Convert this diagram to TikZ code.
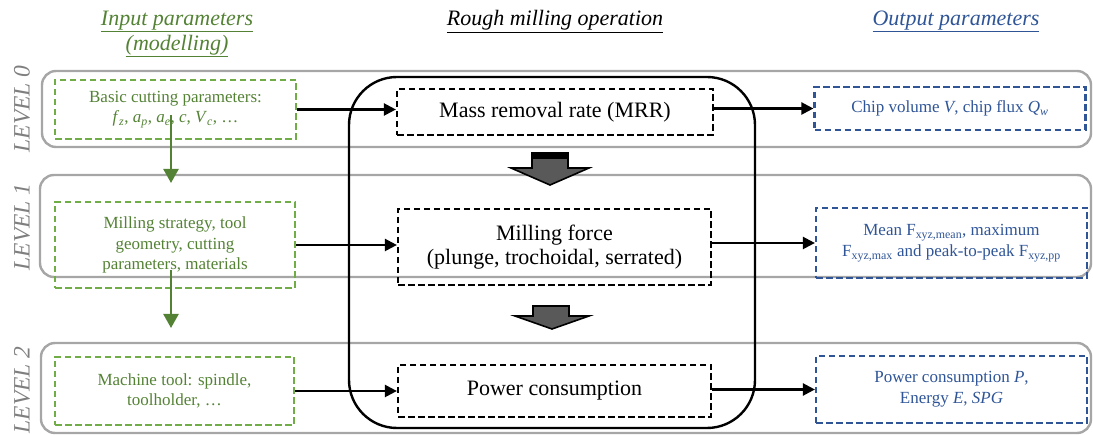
\documentclass[tikz,border=0pt]{standalone}
\usepackage{fontspec}
\setmainfont{Liberation Serif}
\usetikzlibrary{arrows.meta}
\definecolor{grtext}{HTML}{548235}
\definecolor{grbox}{HTML}{70AD47}
\definecolor{bltext}{HTML}{2F5597}
\definecolor{blbox}{HTML}{2F5597}
\definecolor{band}{HTML}{A6A6A6}
\definecolor{lvl}{HTML}{7F7F7F}
\definecolor{barrow}{HTML}{595959}
\tikzset{
  bandbox/.style={draw=band, line width=2.4pt, rounded corners=14pt},
  inbox/.style={draw=grbox, line width=2.2pt, dash pattern=on 6.5pt off 3.5pt, text=grtext, align=center, font=\fontsize{17}{20.5}\selectfont, inner sep=0pt},
  midbox/.style={draw=black, line width=2.2pt, dash pattern=on 6.5pt off 3.5pt, align=center, font=\fontsize{22}{23.5}\selectfont, inner sep=0pt},
  outbox/.style={draw=blbox, line width=2.2pt, dash pattern=on 6.5pt off 3.5pt, text=bltext, align=center, font=\fontsize{17}{21}\selectfont, inner sep=0pt},
  conn/.style={draw=black, line width=2.3pt, -{Triangle[length=12pt,width=12pt]}},
  gconn/.style={draw=grtext, line width=2.3pt, -{Triangle[length=14pt,width=15pt]}},
  lvllabel/.style={text=lvl, rotate=90, font=\fontsize{23.5}{24}\selectfont\itshape},
  header/.style={font=\fontsize{22}{25}\selectfont\itshape, align=center},
  blockarrow/.style={draw=black, fill=barrow, line width=1.6pt, line join=miter},
}
\begin{document}
\begin{tikzpicture}[x=1pt,y=-1pt]
\useasboundingbox (0,0) rectangle (1093,435);
% headers
\node[header, text=grtext] (hin) at (177,34) {\underline{Input parameters}\\\underline{(modelling)}};
\node[header, text=black] (hmid) at (555,21.5) {\underline{Rough milling operation}};
\node[header, text=bltext] (hout) at (956,21.5) {\underline{Output parameters}};
% bands
\draw[bandbox] (42,71) rectangle (1091,147);
\draw[bandbox] (40,175) rectangle (1091,277);
\draw[bandbox] (41,343) rectangle (1091,433);
\node[lvllabel] (l0) at (22,109) {LEVEL 0};
\node[lvllabel] (l1) at (22,227) {LEVEL 1};
\node[lvllabel] (l2) at (22,390) {LEVEL 2};
% central frame
\draw[line width=2.4pt, rounded corners=48pt] (349,77) rectangle (755,428);
% input boxes
\node[inbox, minimum width=241pt, minimum height=59pt] (g0) at (175.5,109.5)
  {Basic cutting parameters:\\
   \textit{f}\textsubscript{\textit{z}}, \textit{a}\textsubscript{\textit{p}}, \textit{a}\textsubscript{\textit{e}}, \textit{c}, \textit{V}\textsubscript{\textit{c}}, \dots};
\node[inbox, minimum width=240pt, minimum height=86pt] (g1) at (175,245)
  {Milling strategy, tool\\geometry, cutting\\parameters, materials};
\node[inbox, minimum width=239pt, minimum height=68pt] (g2) at (174.5,391)
  {Machine tool: spindle,\\toolholder, \dots};
% middle boxes
\node[midbox, minimum width=316pt, minimum height=46pt] (m0) at (555,112) {Mass removal rate (MRR)};
\node[midbox, minimum width=313pt, minimum height=76pt] (m1) at (554.5,247) {Milling force\\(plunge, trochoidal, serrated)};
\node[midbox, minimum width=313pt, minimum height=52pt] (m2) at (554.5,391) {Power consumption};
% output boxes
\node[outbox, minimum width=271pt, minimum height=43pt] (o0) at (950,108.5)
  {Chip volume \textit{V}, chip flux \textit{Q}\textsubscript{\textit{w}}};
\node[outbox, minimum width=271pt, minimum height=70pt] (o1) at (951.5,243)
  {Mean F\textsubscript{xyz,mean}, maximum\\F\textsubscript{xyz,max} and peak-to-peak F\textsubscript{xyz,pp}};
\node[outbox, minimum width=271pt, minimum height=67pt] (o2) at (951.5,389.5)
  {Power consumption \textit{P},\\Energy \textit{E}, \textit{SPG}};
% connectors
\draw[conn] (g0.east) -- (g0.east -| m0.west);
\draw[conn] (g1.east) -- (g1.east -| m1.west);
\draw[conn] (g2.east) -- (g2.east -| m2.west);
\draw[conn] (o0.west -| m0.east) -- (o0.west);
\draw[conn] (o1.west -| m1.east) -- (o1.west);
\draw[conn] (o2.west -| m2.east) -- (o2.west);
\coordinate (ga0) at (171,115);
\coordinate (gb0) at (171,183);
\coordinate (ga1) at (171,270);
\coordinate (gb1) at (171,328);
\draw[gconn] (ga0) -- (gb0);
\draw[gconn] (ga1) -- (gb1);
% block arrows
\draw[blockarrow] (532,153) -- (568,153) -- (568,168) -- (589,168) -- (550,185) -- (511,168) -- (532,168) -- cycle;
\fill[black] (532,152.5) rectangle (568,159);
\draw[blockarrow] (533,306) -- (569,306) -- (569,316) -- (589,316) -- (552,329) -- (515,316) -- (533,316) -- cycle;
\end{tikzpicture}
\end{document}
